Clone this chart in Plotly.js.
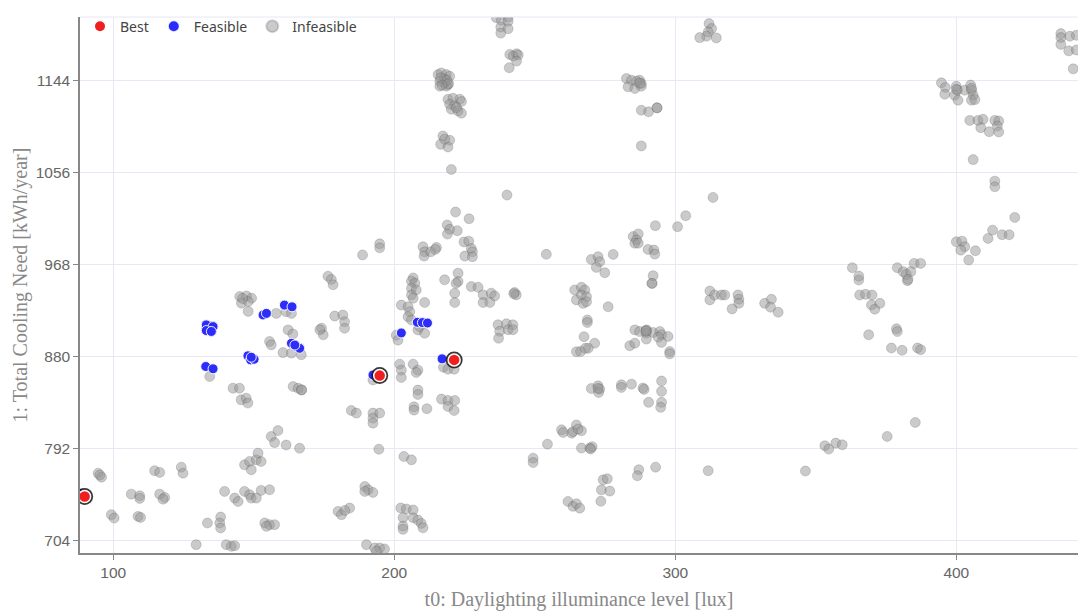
<!DOCTYPE html>
<html>
<head>
<meta charset="utf-8">
<script src="https://cdn.plot.ly/plotly-3.0.1.min.js"></script>
<style>html,body{margin:0;padding:0;background:#fff;}#chart{width:1078px;height:612px;}</style>
</head>
<body>
<div id="chart"></div>
<script>
// t0: Daylighting illuminance level [lux]  vs  1: Total Cooling Need [kWh/year]
const infeasibleX = [
236.3,238.1,240.5,240.5,237.9,240.5,237.9,241.1,243.5,242.3,244.1,243.5,240.9,
215.6,216.7,218.5,219.7,216.2,217.9,219.1,216.2,218.5,217.9,216.5,218.8,219.3,217.0,
219.1,220.9,223.3,223.9,219.7,221.5,220.3,222.7,223.9,222.1,
217.3,219.7,216.5,219.1,217.9,
220.3,240.1,221.8,226.6,218.8,219.7,222.4,218.9,254.1,188.7,194.8,194.8,
210.2,210.8,210.6,213.0,215.0,214.6,224.8,226.5,227.4,227.8,225.1,227.8,
176.4,177.6,178.2,206.7,206.1,207.3,217.9,222.7,222.7,
206.1,207.8,206.1,206.7,222.0,221.5,221.5,227.4,229.8,231.6,234.5,235.7,231.6,234.0,
242.8,243.4,242.5,264.2,264.8,202.5,204.9,205.5,210.8,204.9,206.1,208.4,210.8,209.0,200.7,201.3,
236.9,239.9,242.2,237.5,240.5,242.2,237.1,
217.5,219.1,221.3,221.3,221.3,221.3,201.9,202.5,202.5,206.7,208.4,207.8,208.4,208.4,207.0,207.0,211.6,
216.8,219.1,221.5,219.1,221.3,
194.5,194.5,192.4,184.7,186.5,192.4,194.8,192.4,192.4,194.5,203.4,206.1,
189.5,190.7,192.4,189.5,180.0,181.2,184.1,182.4,
202.3,204.3,206.7,203.1,203.1,203.1,206.7,208.4,209.6,210.2,
190.1,193.0,194.8,196.5,193.6,
89.8,89.8,94.6,95.8,95.2,99.3,100.3,106.4,109.4,109.4,108.8,109.7,114.7,116.5,116.5,118.3,117.7,
124.2,124.8,129.5,133.5,138.2,137.9,138.2,139.6,143.2,144.4,140.2,142.0,143.2,
146.7,148.5,149.1,150.9,152.6,155.6,153.9,155.6,157.4,154.5,
146.7,148.5,150.9,152.6,149.1,151.5,156.2,158.6,157.4,161.5,166.3,
142.6,144.9,145.5,147.3,147.9,164.0,165.8,167.0,167.0,134.3,
133.1,135.5,133.1,134.9,165.1,166.3,
162.2,163.9,160.4,163.4,166.9,155.6,156.2,158.0,161.5,163.4,
145.0,147.4,149.2,145.6,148.0,148.0,146.0,
174.1,174.7,173.5,178.8,181.7,182.3,182.3,
249.4,249.4,254.5,259.5,260.1,263.1,263.6,264.8,261.8,263.6,264.8,264.8,
266.6,267.8,266.6,268.4,267.2,268.4,276.1,291.7,268.7,268.7,267.5,271.3,269.0,266.3,268.0,
285.6,287.3,289.7,289.7,292.1,294.5,295.1,297.4,289.7,293.9,295.1,283.8,285.6,298.0,298.0,289.7,289.5,
270.1,272.5,273.1,272.7,272.5,280.8,280.8,284.4,288.5,288.9,295.1,295.1,290.5,295.1,294.8,
266.6,265.4,266.6,269.6,270.4,269.9,274.3,275.8,273.7,276.7,273.5,266.0,287.0,286.5,293.0,
311.7,346.3,353.2,354.6,357.1,359.4,375.4,385.4,
312.3,312.3,314.0,316.4,317.6,322.3,322.6,322.6,320.2,331.8,334.2,333.9,336.6,
365.6,367.7,370.0,369.8,371.0,372.8,368.8,378.7,379.0,376.9,380.7,386.2,387.3,382.6,365.3,
312.0,312.9,311.7,311.1,308.7,314.6,
282.6,284.4,287.3,287.9,283.2,285.6,287.9,286.2,287.3,287.9,290.5,293.5,293.5,287.9,
313.4,303.7,300.8,292.9,285.0,286.8,286.2,285.6,286.8,277.9,290.3,292.4,292.7,292.1,291.7,
270.1,272.5,273.1,271.9,274.9,363.0,365.3,379.0,381.1,382.2,383.8,382.8,385.0,387.3,
400.0,402.0,403.0,401.6,406.8,404.4,411.3,412.9,416.3,418.8,420.8,413.7,413.7,406.0,
394.7,396.1,395.9,400.0,400.4,399.4,400.6,403.0,405.1,405.4,406.0,405.4,406.6,400.0,405.4,
404.8,407.7,409.5,408.7,411.7,413.7,415.1,414.6,415.1,
437.2,437.2,440.4,442.7,437.2,440.0,442.7,441.6
];
const infeasibleY = [
1204.6,1202.0,1205.0,1201.2,1195.5,1193.9,1189.8,1169.4,1170.0,1167.8,1168.8,1163.0,1156.7,
1150.1,1151.7,1150.1,1148.5,1143.7,1142.1,1140.5,1139.0,1139.0,1145.9,1147.0,1144.5,1141.5,1140.0,
1126.5,1127.4,1126.5,1124.3,1121.7,1120.2,1117.0,1115.4,1113.2,1118.6,
1091.4,1087.3,1083.4,1080.9,1088.3,
1059.3,1034.9,1018.6,1012.2,1006.3,1002.1,1000.8,997.6,978.2,977.6,988.2,984.4,
985.4,980.6,976.5,980.6,984.8,982.9,990.1,990.8,983.8,980.6,976.5,975.9,
957.3,954.1,949.1,955.6,952.5,950.5,953.8,960.2,952.2,
945.7,944.1,939.4,936.2,950.5,941.0,932.1,947.3,946.7,939.4,941.0,938.4,932.1,932.1,
941.6,939.4,940.5,944.1,934.6,929.6,928.0,923.3,932.1,918.5,915.4,905.9,902.7,909.1,900.8,896.1,
910.8,911.7,910.8,904.5,906.1,906.1,897.9,
870.2,868.3,868.3,877.2,877.2,877.2,873.1,867.4,860.4,873.1,867.4,865.2,848.3,844.1,832.3,829.2,830.5,
839.7,838.4,838.4,832.6,828.8,
860.5,860.5,858.0,828.8,826.3,826.3,826.3,821.5,816.7,791.8,784.8,781.6,
756.1,753.0,750.4,751.4,732.3,729.1,735.5,733.2,
735.6,734.6,733.6,726.2,718.2,715.1,726.2,724.0,720.8,716.6,
700.5,697.3,697.3,696.4,694.2,
746.6,746.6,768.8,765.0,767.0,729.1,725.9,748.8,747.2,744.7,727.5,726.5,771.2,769.6,748.8,745.6,744.0,
774.6,768.8,700.5,721.2,726.9,721.2,716.4,751.4,745.0,741.8,700.5,698.9,699.5,
751.4,748.2,745.0,745.0,752.4,753.0,721.2,719.6,719.6,718.0,
776.9,780.0,781.6,780.0,772.1,788.0,803.9,809.6,798.1,795.8,792.7,
850.1,850.1,839.0,840.6,835.9,851.7,850.1,848.5,848.5,861.3,
910.7,909.1,905.3,904.4,889.9,888.3,
905.9,902.0,884.2,883.7,882.1,894.8,891.6,921.7,923.3,921.7,
937.8,938.4,936.2,931.5,933.1,923.6,936.0,
907.5,901.2,906.0,919.1,920.1,913.7,907.5,
783.2,779.0,796.6,810.3,807.8,807.1,808.7,815.0,741.8,737.1,739.6,885.0,
946.6,944.1,939.3,937.7,931.3,932.9,928.0,950.3,915.4,912.9,899.4,893.1,888.3,885.2,888.3,
905.9,904.3,905.9,902.7,903.4,904.3,901.2,899.6,897.1,899.0,893.9,890.7,893.2,885.2,883.0,905.3,904.5,
849.8,852.4,849.2,846.0,850.0,853.4,850.9,854.0,850.3,849.0,857.0,847.1,836.6,836.6,831.8,
809.5,811.1,792.9,792.9,794.2,792.0,762.5,763.5,752.9,751.7,742.0,735.4,772.1,766.4,774.6,
771.2,770.9,795.1,791.9,797.6,796.0,804.0,817.4,
943.1,934.6,939.3,939.3,939.3,939.3,935.2,931.3,926.0,931.3,935.2,927.6,922.8,
939.3,939.9,939.3,929.8,925.7,931.3,901.2,906.9,904.3,888.6,886.4,888.6,887.0,953.0,953.6,
1198.9,1194.1,1190.9,1186.8,1185.5,1185.2,
1146.3,1144.7,1144.7,1141.5,1138.4,1136.8,1139.0,1143.8,1142.0,1116.0,1114.5,1118.3,1118.3,1081.9,
1032.6,1015.1,1004.6,1005.6,995.2,997.7,992.0,988.8,988.8,978.1,982.9,982.3,978.4,957.8,950.5,
973.3,975.9,971.1,965.7,960.6,965.4,957.4,965.4,961.6,959.0,961.6,954.3,969.5,969.5,
990.2,990.8,985.4,982.2,981.6,972.7,993.4,1001.3,996.9,996.9,1013.5,1048.2,1042.8,1068.8,
1142.2,1137.8,1131.4,1139.0,1135.2,1130.4,1125.6,1135.2,1140.1,1135.2,1130.4,1125.6,1126.2,1136.0,1137.0,
1106.3,1106.3,1107.3,1099.3,1095.5,1106.3,1105.7,1100.9,1095.2,
1189.3,1185.5,1186.8,1187.7,1179.0,1172.8,1173.7,1155.6
];
const feasibleX = [208.2,210.0,211.8,202.5,217.0,192.4,88.0,132.9,135.5,147.9,148.9,150.1,149.1,
  133.1,135.5,133.1,134.9,163.4,165.1,166.3,164.6,153.3,154.5,160.9,163.6];
const feasibleY = [913.2,912.9,912.5,903.0,878.2,862.8,749.8,870.9,868.7,881.1,877.2,877.8,879.8,
  910.7,909.1,905.3,904.4,893.1,889.9,888.3,891.4,920.2,921.7,929.6,928.0];
const bestX = [89.8,194.8,221.3];
const bestY = [746.6,862.2,877.2];
const yTicks = [704,792,880,968,1056,1144];
const xTicks = [100,200,300,400];

const traces = [
  {type:'scatter', mode:'markers', name:'Infeasible', x:infeasibleX, y:infeasibleY,
   marker:{size:10, color:'rgba(150,150,150,0.5)', line:{width:1, color:'rgba(50,50,50,0.18)'}}},
  {type:'scatter', mode:'markers', name:'Feasible', x:feasibleX, y:feasibleY,
   marker:{size:10, color:'rgb(45,45,250)', line:{width:1, color:'rgba(255,255,255,0.9)'}}},
  {type:'scatter', mode:'markers', name:'ring', showlegend:false, hoverinfo:'skip', x:bestX, y:bestY,
   marker:{size:17, color:'rgba(20,20,20,0.85)', line:{width:0}}},
  {type:'scatter', mode:'markers', name:'Best', x:bestX, y:bestY,
   marker:{size:12, color:'rgb(240,30,30)', line:{width:1.5, color:'#ffffff'}}}
];

const layout = {
  width:1078, height:612,
  margin:{l:80, r:0, t:17, b:59},
  paper_bgcolor:'#ffffff', plot_bgcolor:'#ffffff',
  showlegend:true,
  legend:{orientation:'h', x:0.0, y:1.012, xanchor:'left', yanchor:'top', traceorder:'reversed',
    itemsizing:'constant', bgcolor:'rgba(0,0,0,0)', font:{family:'Noto Sans, Open Sans, sans-serif', size:14, color:'#444'}},
  xaxis:{range:[88.15,443.3], tickvals:xTicks, ticktext:xTicks.map(String),
    showgrid:true, gridcolor:'#e6e8f4', zeroline:false,
    showline:true, linecolor:'#888', linewidth:1.5, ticks:'outside', ticklen:5, tickcolor:'#888',
    tickfont:{family:'Liberation Sans, Arial, sans-serif', size:15.5, color:'#666'},
    title:{text:'t0: Daylighting illuminance level [lux]', standoff:12,
      font:{family:'Liberation Serif, DejaVu Serif, serif', size:20, color:'#888'}}},
  yaxis:{range:[692.5,1205.2], tickvals:yTicks, ticktext:yTicks.map(String),
    showgrid:true, gridcolor:'#e6e8f4', zeroline:false,
    showline:true, linecolor:'#888', linewidth:1.5, ticks:'outside', ticklen:5, tickcolor:'#888',
    tickfont:{family:'Liberation Sans, Arial, sans-serif', size:15.5, color:'#666'},
    title:{text:'1: Total Cooling Need [kWh/year]', standoff:3,
      font:{family:'Liberation Serif, DejaVu Serif, serif', size:20, color:'#888'}}},
  shapes:[{type:'line', xref:'paper', yref:'paper', x0:0, x1:1, y0:1, y1:1, line:{color:'#e6e8f4', width:1}}]
};

Plotly.newPlot('chart', traces, layout, {displayModeBar:false, responsive:false});
</script>
</body>
</html>
